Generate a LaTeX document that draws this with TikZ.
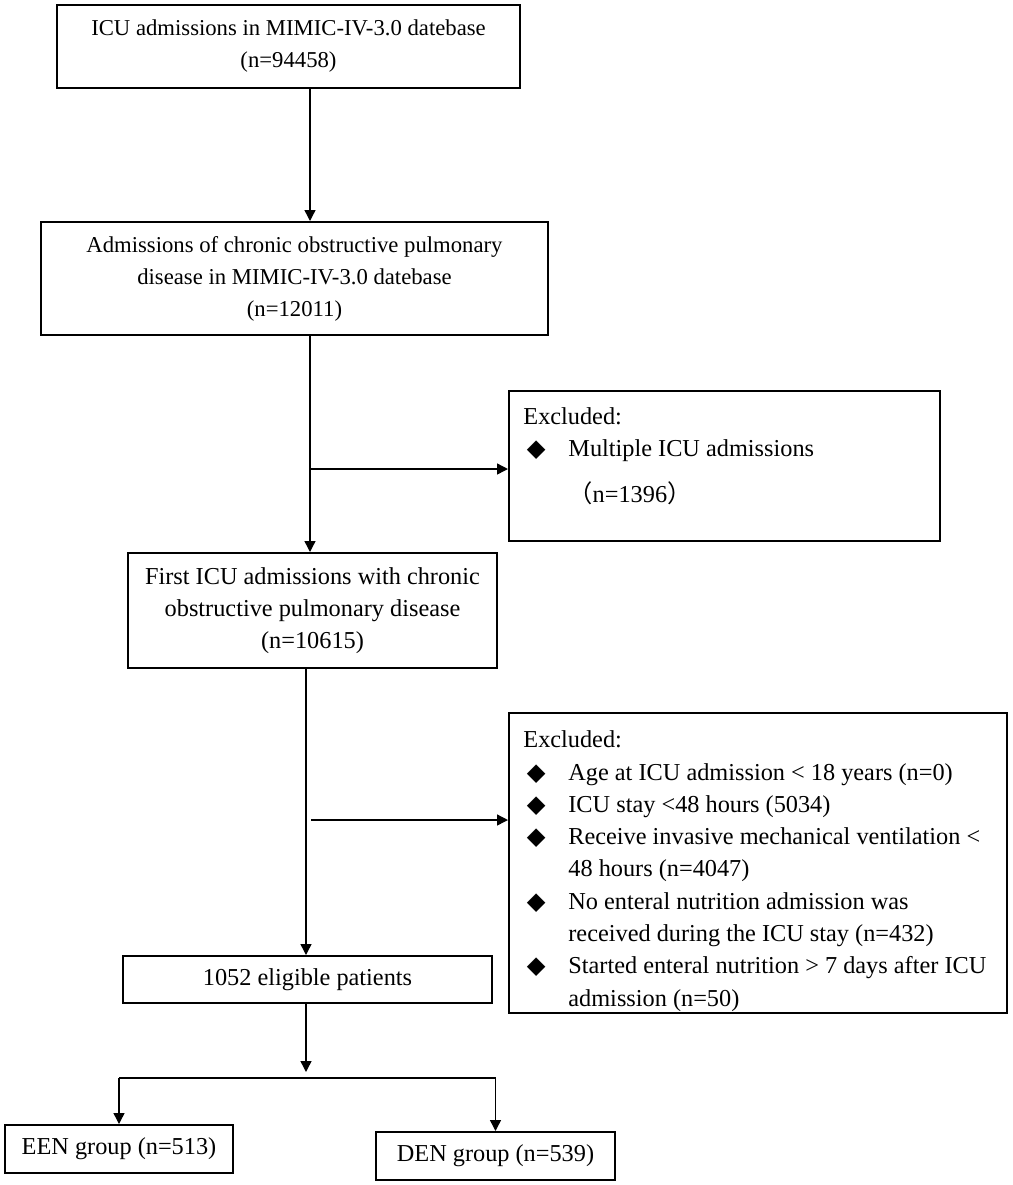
\documentclass[tikz,border=0pt]{standalone}
\usepackage{fontspec}
\setmainfont{Liberation Serif}
\newfontfamily\bulletfont{DejaVu Sans}
\newfontfamily\cjkfont{Noto Sans CJK SC}
\usetikzlibrary{arrows.meta}
\newcommand{\exbullet}{\hspace*{1.75pt}\makebox[20.75pt][l]{\bulletfont ◆}}
\newcommand{\exindent}{\hspace*{22.5pt}}

\begin{document}
\begin{tikzpicture}[x=0.5pt, y=-0.5pt,
        flowbox/.style={draw, line width=1pt, align=center, inner sep=0pt,
                        font=\fontsize{12.15pt}{16pt}\selectfont},
        topbox/.style={flowbox, font=\fontsize{11.35pt}{16pt}\selectfont},
        exclbox/.style={draw, line width=1pt, inner sep=0pt},
        excltext/.style={anchor=north west, align=left, inner sep=0pt,
                         font=\fontsize{12.15pt}{16.15pt}\selectfont},
        flowline/.style={line width=0.7pt},
        flowarrow/.style={line width=0.7pt, -{Triangle[length=5.5pt, width=5.5pt]}}]
            \useasboundingbox (0,0) rectangle (1013,1185);
            % Main column
            \node[topbox,  minimum width=231.5pt, minimum height=41.5pt] (icu)   at (288.5,  46.5)
                 {ICU admissions in MIMIC-IV-3.0 datebase\\(n=94458)};
            \node[topbox,  minimum width=253.5pt, minimum height=56.5pt] (copd)  at (294.5, 278.5)
                 {Admissions of chronic obstructive pulmonary\\disease in MIMIC-IV-3.0 datebase\\(n=12011)};
            \node[flowbox, minimum width=184.5pt, minimum height=57.5pt] (first) at (312.5, 610.5)
                 {First ICU admissions with chronic\\obstructive pulmonary disease\\(n=10615)};
            \node[flowbox, minimum width=184.5pt, minimum height=23.5pt] (elig)  at (307.5, 979.5)
                 {1052 eligible patients};
            % Groups
            \node[flowbox, minimum width=114pt,   minimum height=24pt]   (een)   at (119.0,1149.0)
                 {EEN group (n=513)};
            \node[flowbox, minimum width=119.5pt, minimum height=24pt]   (den)   at (495.5,1156.0)
                 {DEN group (n=539)};
            % Exclusion boxes
            \node[exclbox, minimum width=215.5pt, minimum height=75pt]   (exclA) at (724.5, 466.0) {};
            \node[excltext] (exclAtext) at ([shift={(7.5pt,-8.5pt)}]exclA.north west)
                 {Excluded:\\
                  \exbullet Multiple ICU admissions\\[7pt]
                  \exindent{\cjkfont （}n=1396{\cjkfont ）}};
            \node[exclbox, minimum width=249pt,   minimum height=150pt]  (exclB) at (758.0, 863.0) {};
            \node[excltext] (exclBtext) at ([shift={(7.5pt,-9.25pt)}]exclB.north west)
                 {Excluded:\\
                  \exbullet Age at ICU admission < 18 years (n=0)\\
                  \exbullet ICU stay <48 hours (5034)\\
                  \exbullet Receive invasive mechanical ventilation <\\
                  \exindent 48 hours (n=4047)\\
                  \exbullet No enteral nutrition admission was\\
                  \exindent received during the ICU stay (n=432)\\
                  \exbullet Started enteral nutrition > 7 days after ICU\\
                  \exindent admission (n=50)};
            % Connectors
            \coordinate (spineA)  at (310,   0);
            \coordinate (spineB)  at (306,   0);
            \coordinate (branchA) at (310, 469);
            \coordinate (branchB) at (311, 820);
            \coordinate (split)   at (306,1078);
            \draw[flowarrow] (icu.south -| spineA)   -- (copd.north -| spineA);
            \draw[flowarrow] (copd.south -| spineA)  -- (first.north -| spineA);
            \draw[flowarrow] (branchA)               -- (branchA -| exclA.west);
            \draw[flowarrow] (first.south -| spineB) -- (elig.north -| spineB);
            \draw[flowarrow] (branchB)               -- (branchB -| exclB.west);
            \draw[flowarrow] (elig.south -| spineB)  -- ([yshift=3pt]split);
            \draw[flowline]  (een.north |- split)    -- (den.north |- split);
            \draw[flowarrow] (een.north |- split)    -- (een.north);
            \draw[flowarrow] (den.north |- split)    -- (den.north);
\end{tikzpicture}
\end{document}
